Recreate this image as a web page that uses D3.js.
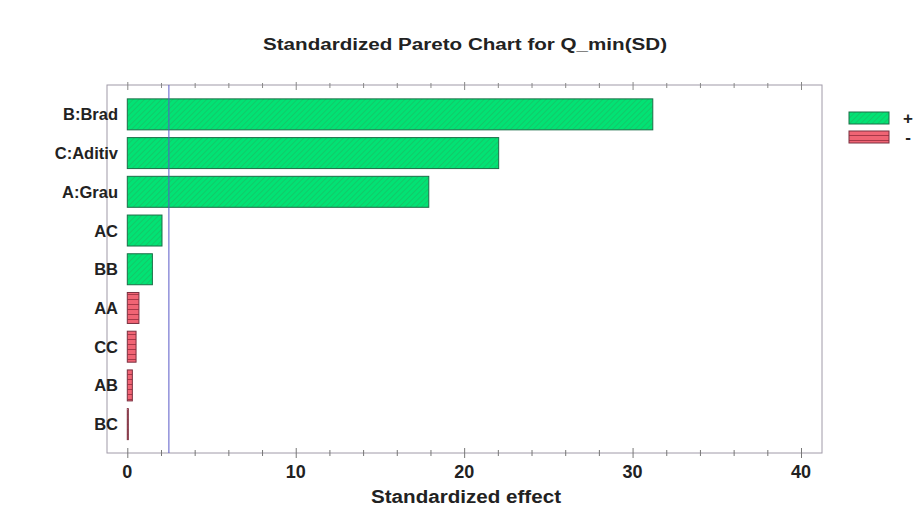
<!DOCTYPE html>
<html>
<head>
<meta charset="utf-8">
<script src="https://cdn.jsdelivr.net/npm/d3@7"></script>
<style>
  body { margin: 0; background: #fff; }
  text { font-family: "Liberation Sans", Arial, sans-serif; font-weight: bold; fill: #222; }
</style>
</head>
<body>
<svg width="916" height="510"></svg>
<script>
// data
let effects = ["B:Brad", "C:Aditiv", "A:Grau", "AC", "BB", "AA", "CC", "AB", "BC"];
let values = [31.2, 22.05, 17.9, 2.06, 1.49, 0.69, 0.52, 0.3, 0.06];
let signs = ["+", "+", "+", "+", "+", "-", "-", "-", "-"];
let xTicks = [0, 10, 20, 30, 40];
let critical = 2.47;
let legendItems = ["+", "-"];

let svg = d3.select("svg");

// frame
let boxLeft = 107, boxRight = 822, boxTop = 85, boxBottom = 453;

let xScale = d3.scaleLinear().domain([0, 40]).range([127.3, 801]);
let yScale = d3.scaleBand().domain(effects).range([95, 443.5]).paddingInner(0.2).paddingOuter(0.1);

let defs = svg.append("defs");
let pg = defs.append("pattern")
  .attr("id", "hatchPlus")
  .attr("patternUnits", "userSpaceOnUse")
  .attr("width", 4).attr("height", 4)
  .attr("patternTransform", "rotate(45)");
pg.append("rect").attr("width", 4).attr("height", 4).attr("fill", "#02e274");
pg.append("line").attr("x1", 0).attr("y1", 0).attr("x2", 0).attr("y2", 4)
  .attr("stroke", "#1cb862").attr("stroke-width", 1.2);

let pr = defs.append("pattern")
  .attr("id", "hatchMinus")
  .attr("patternUnits", "userSpaceOnUse")
  .attr("width", 6).attr("height", 5);
pr.append("rect").attr("width", 6).attr("height", 5).attr("fill", "#f06474");
pr.append("line").attr("x1", 0).attr("y1", 4.5).attr("x2", 6).attr("y2", 4.5)
  .attr("stroke", "#a83848").attr("stroke-width", 1);

// title
svg.append("text")
  .attr("x", 465).attr("y", 50)
  .attr("text-anchor", "middle")
  .attr("textLength", 404)
  .attr("lengthAdjust", "spacingAndGlyphs")
  .style("font-size", "16px")
  .text("Standardized Pareto Chart for Q_min(SD)");

// plot box
svg.append("rect")
  .attr("x", boxLeft).attr("y", boxTop)
  .attr("width", boxRight - boxLeft).attr("height", boxBottom - boxTop)
  .attr("fill", "none").attr("stroke", "#a09aa8").attr("stroke-width", 1);

// axes (bottom + mirrored top)
let minor = d3.range(0, 41, 2);
let xAxis = d3.axisBottom(xScale).tickValues(minor).tickSize(0).tickFormat("");
let gx = svg.append("g").attr("transform", `translate(0, ${boxBottom})`).call(xAxis);
gx.select(".domain").remove();
gx.selectAll(".tick line").remove();
gx.selectAll(".tick").append("line")
  .attr("y1", (d) => d % 10 === 0 ? -5 : -3)
  .attr("y2", (d) => d % 10 === 0 ? 5 : 3)
  .attr("stroke", "#777");

let gt = svg.append("g").attr("transform", `translate(0, ${boxTop})`).call(xAxis);
gt.select(".domain").remove();
gt.selectAll(".tick line").remove();
gt.selectAll(".tick").append("line")
  .attr("y1", (d) => d % 10 === 0 ? -3 : -2)
  .attr("y2", (d) => d % 10 === 0 ? 5 : 3)
  .attr("stroke", "#888");

svg.append("g")
  .selectAll("text")
  .data(xTicks)
  .enter()
  .append("text")
  .attr("x", (d) => xScale(d))
  .attr("y", 478)
  .attr("text-anchor", "middle")
  .style("font-size", "18px")
  .text((d) => d);

svg.append("text")
  .attr("x", 466).attr("y", 503)
  .attr("text-anchor", "middle")
  .attr("textLength", 190)
  .attr("lengthAdjust", "spacingAndGlyphs")
  .style("font-size", "18px")
  .text("Standardized effect");

// bars
svg.append("g")
  .selectAll("rect")
  .data(effects)
  .enter()
  .append("rect")
  .attr("x", xScale(0))
  .attr("y", (d) => yScale(d))
  .attr("width", (d, i) => Math.max(1, xScale(values[i]) - xScale(0)))
  .attr("height", yScale.bandwidth())
  .attr("fill", (d, i) => signs[i] === "+" ? "url(#hatchPlus)" : "url(#hatchMinus)")
  .attr("stroke", (d, i) => signs[i] === "+" ? "#1c6e48" : "#7a3040")
  .attr("stroke-width", 1);

// category labels
svg.append("g")
  .selectAll("text")
  .data(effects)
  .enter()
  .append("text")
  .attr("x", 118)
  .attr("y", (d) => yScale(d) + yScale.bandwidth() / 2 + 6)
  .attr("text-anchor", "end")
  .style("font-size", "16.5px")
  .text((d) => d);

// reference line
svg.append("line")
  .attr("x1", xScale(critical)).attr("x2", xScale(critical))
  .attr("y1", boxTop).attr("y2", boxBottom)
  .attr("stroke", "#5a5ac8").attr("stroke-width", 1);

// legend
let lg = svg.append("g")
  .selectAll("g")
  .data(legendItems)
  .enter()
  .append("g")
  .attr("transform", (d, i) => `translate(849, ${112 + i * 19})`);
lg.append("rect")
  .attr("width", 40).attr("height", 12)
  .attr("fill", (d) => d === "+" ? "url(#hatchPlus)" : "url(#hatchMinus)")
  .attr("stroke", (d) => d === "+" ? "#1c6e48" : "#7a3040");
lg.append("text")
  .attr("x", 59).attr("y", 12)
  .attr("text-anchor", "middle")
  .style("font-size", "17px")
  .text((d) => d);
</script>
</body>
</html>
